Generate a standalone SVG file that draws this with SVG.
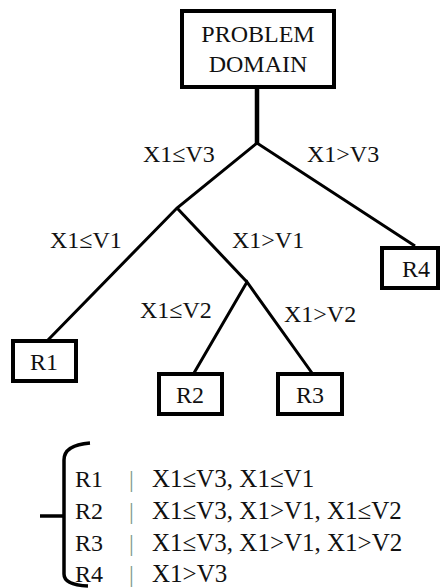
<svg xmlns="http://www.w3.org/2000/svg" width="441" height="588" viewBox="0 0 441 588">
<style>
.box{fill:#fff;stroke:#000;stroke-width:4}
.t{font-family:"Liberation Serif","Times New Roman",serif;font-size:24px;fill:#111}
.c{text-anchor:middle}
.ln{stroke:#000;stroke-width:3;fill:none;stroke-linecap:butt}
.sep{font-family:"Liberation Serif",serif;font-size:24px;fill:#7c9a8a}
.lg{font-size:25px}
</style>
<rect width="441" height="588" fill="#fff"/>
<g id="connectors">
<line class="ln" x1="257" y1="87" x2="257" y2="144" style="stroke-width:4.5"/>
<polyline class="ln" points="48,340 177,208 257,143 415,246"/>
<polyline class="ln" points="177,208 247,282"/>
<polyline class="ln" points="194,373 247,282 312,373"/>
<text class="t" x="143" y="162">X1≤V3</text>
<text class="t" x="307" y="162">X1&gt;V3</text>
<text class="t" x="50" y="248">X1≤V1</text>
<text class="t" x="232" y="248">X1&gt;V1</text>
<text class="t" x="140" y="318">X1≤V2</text>
<text class="t" x="284" y="322">X1&gt;V2</text>
</g>
<g id="root">
<rect class="box" x="182" y="11" width="152" height="76"/>
<text class="t c" x="258" y="42">PROBLEM</text>
<text class="t c" x="258" y="72">DOMAIN</text>
</g>
<g id="R1">
<rect class="box" x="13" y="341" width="63" height="40"/>
<text class="t c" x="44" y="370">R1</text>
</g>
<g id="R2">
<rect class="box" x="159" y="374" width="63" height="40"/>
<text class="t c" x="190" y="403">R2</text>
</g>
<g id="R3">
<rect class="box" x="278" y="374" width="64" height="40"/>
<text class="t c" x="310" y="403">R3</text>
</g>
<g id="R4">
<rect class="box" x="382" y="248" width="56" height="40"/>
<text class="t c" x="416" y="277">R4</text>
</g>
<g id="legend">
<path class="ln" d="M90,443 Q64,445 64,460 L64,574 Q64,585 88,586" style="stroke-width:3.5"/>
<line class="ln" x1="40" y1="516" x2="64" y2="516" style="stroke-width:3.5"/>
<text class="t" x="75" y="487">R1</text>
<text class="t" x="75" y="519">R2</text>
<text class="t" x="75" y="551">R3</text>
<text class="t" x="75" y="582">R4</text>
<text class="sep" x="129" y="487">|</text>
<text class="sep" x="129" y="519">|</text>
<text class="sep" x="129" y="551">|</text>
<text class="sep" x="129" y="582">|</text>
<text class="t lg" x="152" y="487">X1≤V3, X1≤V1</text>
<text class="t lg" x="152" y="519">X1≤V3, X1&gt;V1, X1≤V2</text>
<text class="t lg" x="152" y="551">X1≤V3, X1&gt;V1, X1&gt;V2</text>
<text class="t lg" x="152" y="582">X1&gt;V3</text>
</g>
</svg>
